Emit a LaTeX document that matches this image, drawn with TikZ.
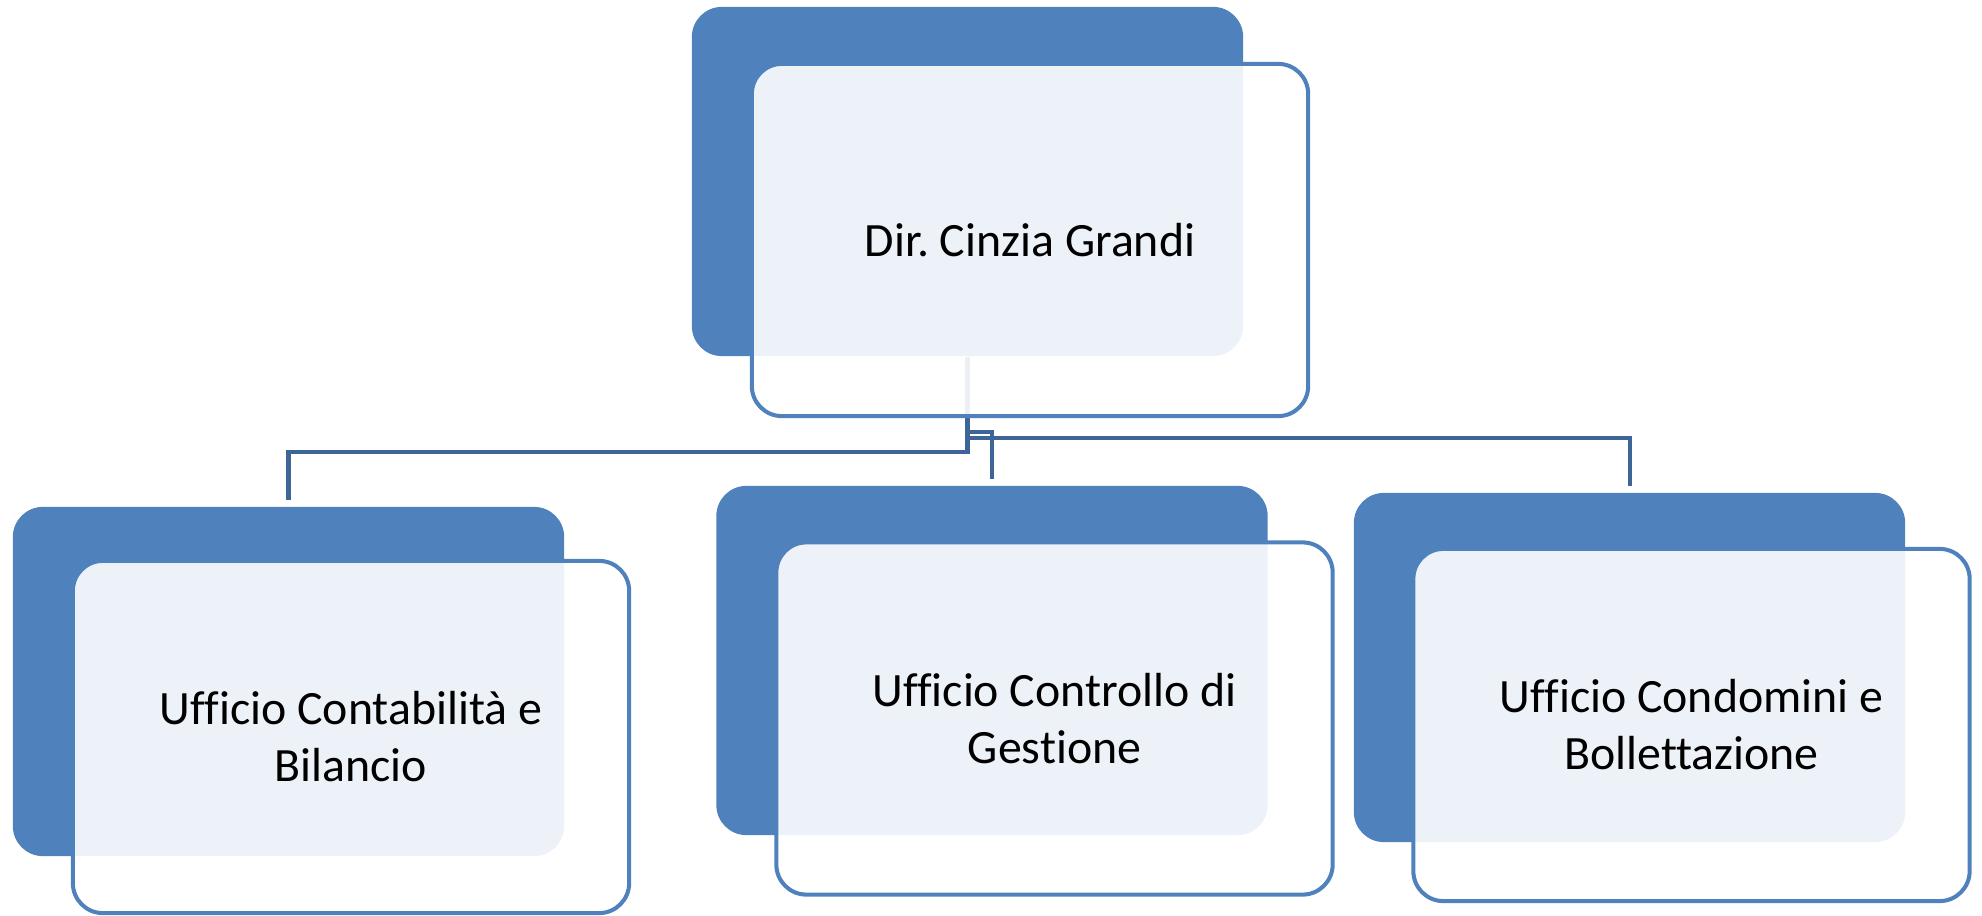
\documentclass[tikz,border=0pt]{standalone}
\usepackage{fontspec}
\setmainfont{Carlito}[Ligatures=NoCommon]
\frenchspacing
\definecolor{backblue}{HTML}{4F81BD}
\definecolor{linkblue}{HTML}{3E6597}
\begin{document}
\begin{tikzpicture}[x=0.01cm,y=-0.01cm,
  backbox/.style={draw=none, fill=backblue, rounded corners=0.3cm,
    minimum width=5.51cm, minimum height=3.49cm, inner sep=0pt},
  frontbox/.style={draw=backblue, line width=1.15pt, fill=white, fill opacity=0.9,
    text opacity=1, rounded corners=0.3cm, minimum width=5.56cm, minimum height=3.52cm,
    inner sep=0pt, align=center, font=\fontsize{13.6}{16.2}\selectfont},
  link/.style={draw=linkblue, line width=1.15pt}]
\useasboundingbox (0,0) rectangle (1982,916);
% back boxes
\node[backbox] (tb) at (967.5,181.5) {};
\node[backbox] (lb) at (288.5,681.5) {};
\node[backbox] (mb) at (992,660.5) {};
\node[backbox] (rb) at (1629.5,667.5) {};
% level coordinates for connectors
\coordinate (hl) at (0,452);
\coordinate (hm) at (0,432);
\coordinate (hr) at (0,438);
% connectors
\draw[link] (tb.south) |- (lb.north |- hl) -- ([yshift=0.06cm]lb.north);
\draw[link] (tb.south) |- (mb.north |- hm) -- ([yshift=0.06cm]mb.north);
\draw[link] (tb.south) |- (rb.north |- hr) -- ([yshift=0.06cm]rb.north);
% front boxes
\node[frontbox] (tf) at (1030,240) {Dir. Cinzia Grandi};
\node[frontbox] (lf) at (351,737) {Ufficio Contabilità e\\Bilancio};
\node[frontbox] (mf) at (1054.5,718.5) {Ufficio Controllo di\\Gestione};
\node[frontbox] (rf) at (1691.5,725) {Ufficio Condomini e\\Bollettazione};
\end{tikzpicture}
\end{document}
